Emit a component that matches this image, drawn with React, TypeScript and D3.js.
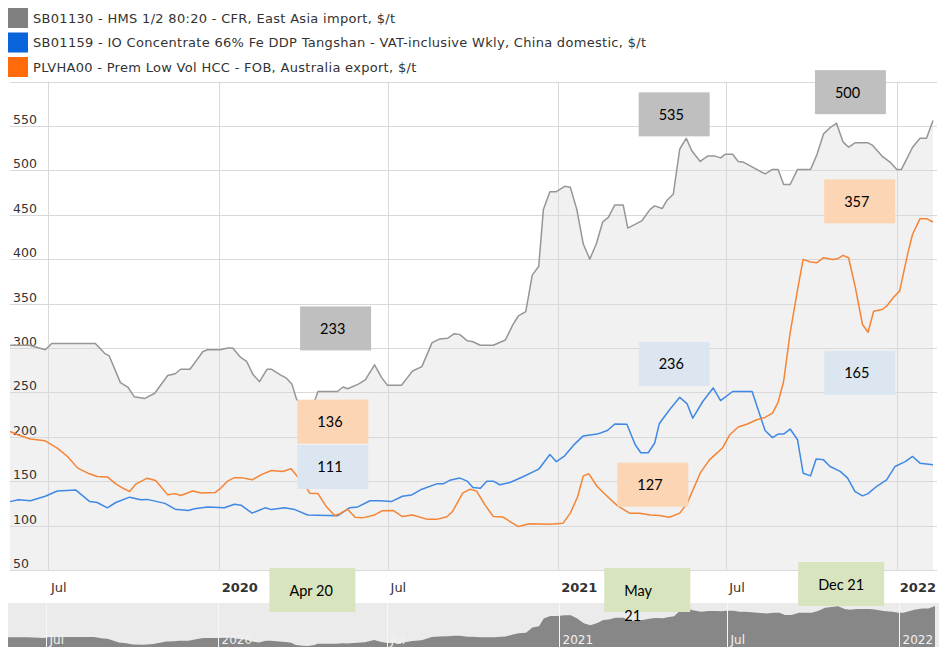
import { useEffect, useRef } from "react";
import * as d3 from "d3";

// SB01130 - HMS 1/2 80:20 CFR East Asia
const hmsData: [string, number][] = [
  ["2019-05-21", 303], ["2019-06-11", 303], ["2019-06-28", 298], ["2019-07-05", 305],
  ["2019-08-21", 305], ["2019-08-31", 294], ["2019-09-05", 291], ["2019-09-17", 261],
  ["2019-09-25", 256], ["2019-10-02", 245], ["2019-10-13", 243], ["2019-10-24", 249],
  ["2019-11-07", 269], ["2019-11-15", 271], ["2019-11-21", 276], ["2019-12-01", 276],
  ["2019-12-06", 283], ["2019-12-15", 296], ["2019-12-20", 298], ["2020-01-02", 298],
  ["2020-01-11", 300], ["2020-01-16", 300], ["2020-01-24", 290], ["2020-01-31", 285],
  ["2020-02-07", 270], ["2020-02-14", 262], ["2020-02-22", 276], ["2020-02-27", 276],
  ["2020-03-07", 270], ["2020-03-14", 266], ["2020-03-20", 259], ["2020-03-25", 242],
  ["2020-04-01", 236], ["2020-04-07", 233], ["2020-04-14", 242], ["2020-04-17", 251],
  ["2020-05-08", 251], ["2020-05-14", 256], ["2020-05-19", 254], ["2020-05-30", 259],
  ["2020-06-07", 264], ["2020-06-17", 281], ["2020-06-25", 266], ["2020-07-01", 258],
  ["2020-07-16", 258], ["2020-07-22", 266], ["2020-07-28", 274], ["2020-08-07", 279],
  ["2020-08-18", 306], ["2020-08-26", 310], ["2020-09-04", 311], ["2020-09-11", 316],
  ["2020-09-17", 315], ["2020-09-25", 308], ["2020-10-01", 307], ["2020-10-09", 303],
  ["2020-10-23", 303], ["2020-11-05", 309], ["2020-11-13", 326], ["2020-11-19", 336],
  ["2020-11-27", 341], ["2020-12-04", 382], ["2020-12-11", 392], ["2020-12-16", 456],
  ["2020-12-23", 476], ["2020-12-30", 476], ["2021-01-08", 482], ["2021-01-14", 481],
  ["2021-01-21", 456], ["2021-01-28", 417], ["2021-02-04", 400], ["2021-02-11", 417],
  ["2021-02-18", 442], ["2021-02-24", 447], ["2021-03-03", 461], ["2021-03-12", 461],
  ["2021-03-17", 435], ["2021-04-01", 443], ["2021-04-10", 456], ["2021-04-15", 460],
  ["2021-04-23", 457], ["2021-04-28", 466], ["2021-05-05", 473], ["2021-05-12", 524],
  ["2021-05-19", 536], ["2021-05-25", 522], ["2021-06-03", 510], ["2021-06-11", 516],
  ["2021-06-19", 516], ["2021-06-25", 514], ["2021-06-30", 518], ["2021-07-08", 518],
  ["2021-07-14", 510], ["2021-07-20", 509], ["2021-07-27", 505], ["2021-08-12", 496],
  ["2021-08-20", 501], ["2021-08-26", 501], ["2021-09-01", 484], ["2021-09-08", 484],
  ["2021-09-16", 501], ["2021-09-30", 501], ["2021-10-07", 518], ["2021-10-14", 541],
  ["2021-10-21", 548], ["2021-10-28", 553], ["2021-11-04", 532], ["2021-11-10", 526],
  ["2021-11-17", 531], ["2021-12-01", 531], ["2021-12-06", 528], ["2021-12-16", 516],
  ["2021-12-25", 509], ["2022-01-01", 501], ["2022-01-06", 501], ["2022-01-18", 526],
  ["2022-01-26", 536], ["2022-02-02", 536], ["2022-02-09", 556],
];

// SB01159 - IO Concentrate 66% Fe DDP Tangshan
const ioData: [string, number][] = [
  ["2019-05-21", 127], ["2019-05-30", 129], ["2019-06-12", 128], ["2019-06-28", 133],
  ["2019-07-11", 139], ["2019-07-31", 140], ["2019-08-15", 127], ["2019-08-23", 126],
  ["2019-09-03", 120], ["2019-09-12", 126], ["2019-09-27", 132], ["2019-10-09", 129],
  ["2019-10-16", 129.5], ["2019-11-04", 125], ["2019-11-15", 118.5], ["2019-11-29", 117],
  ["2019-12-06", 119], ["2019-12-20", 121], ["2020-01-07", 120], ["2020-01-18", 124],
  ["2020-01-25", 123], ["2020-02-06", 114], ["2020-02-20", 120], ["2020-02-27", 118],
  ["2020-03-12", 120], ["2020-03-23", 118], ["2020-04-06", 112], ["2020-05-08", 111],
  ["2020-05-21", 120], ["2020-05-30", 121], ["2020-06-12", 128], ["2020-06-23", 128],
  ["2020-07-05", 127], ["2020-07-17", 133], ["2020-07-27", 134.5], ["2020-08-07", 141],
  ["2020-08-23", 147], ["2020-08-30", 147], ["2020-09-06", 151], ["2020-09-17", 153.5],
  ["2020-09-25", 150], ["2020-10-01", 143], ["2020-10-09", 142], ["2020-10-16", 150],
  ["2020-10-23", 150], ["2020-10-30", 146], ["2020-11-10", 148.5], ["2020-11-24", 155],
  ["2020-12-11", 163.5], ["2020-12-23", 180], ["2020-12-30", 172], ["2021-01-08", 178.6],
  ["2021-01-17", 190], ["2021-01-28", 201], ["2021-02-12", 203], ["2021-02-23", 207],
  ["2021-03-03", 214.4], ["2021-03-16", 214], ["2021-03-25", 191], ["2021-03-31", 182],
  ["2021-04-08", 182], ["2021-04-15", 193], ["2021-04-20", 215], ["2021-05-01", 230.5],
  ["2021-05-12", 244.4], ["2021-05-20", 237], ["2021-05-26", 221], ["2021-06-06", 240],
  ["2021-06-17", 255], ["2021-06-25", 240.6], ["2021-07-08", 251], ["2021-07-29", 251],
  ["2021-08-04", 232], ["2021-08-12", 207], ["2021-08-20", 199], ["2021-08-26", 203],
  ["2021-09-01", 203], ["2021-09-08", 208.7], ["2021-09-16", 196.6], ["2021-09-22", 159],
  ["2021-09-30", 156], ["2021-10-06", 175], ["2021-10-14", 174], ["2021-10-21", 166.5],
  ["2021-11-01", 161], ["2021-11-09", 153.4], ["2021-11-17", 138.3], ["2021-11-25", 133.5],
  ["2021-12-01", 136], ["2021-12-10", 144], ["2021-12-21", 151.5], ["2021-12-30", 166.5],
  ["2022-01-10", 172], ["2022-01-18", 177.8], ["2022-01-26", 170.3], ["2022-02-09", 168.4],
];

// PLVHA00 - Prem Low Vol HCC FOB Australia
const hccData: [string, number][] = [
  ["2019-05-21", 206], ["2019-05-30", 202], ["2019-06-12", 197.4], ["2019-06-28", 195.5],
  ["2019-07-11", 187.3], ["2019-07-22", 177.8], ["2019-08-02", 164.7], ["2019-08-13", 159],
  ["2019-08-23", 155.3], ["2019-09-03", 154.8], ["2019-09-12", 147], ["2019-09-20", 142],
  ["2019-09-27", 138.3], ["2019-10-04", 147], ["2019-10-16", 153.4], ["2019-10-25", 150.7],
  ["2019-11-07", 134.6], ["2019-11-15", 136], ["2019-11-21", 133.8], ["2019-12-04", 139],
  ["2019-12-13", 136.7], ["2019-12-28", 137.2], ["2020-01-03", 142], ["2020-01-11", 150.4],
  ["2020-01-18", 154], ["2020-01-25", 154], ["2020-02-06", 151.5], ["2020-02-17", 158],
  ["2020-02-27", 162], ["2020-03-10", 161], ["2020-03-19", 164], ["2020-03-26", 155],
  ["2020-04-05", 142], ["2020-04-08", 136.5], ["2020-04-17", 136], ["2020-04-26", 121.4],
  ["2020-05-05", 111.3], ["2020-05-10", 113], ["2020-05-19", 118.5], ["2020-05-27", 109.4],
  ["2020-06-04", 108.7], ["2020-06-17", 112], ["2020-06-25", 116.6], ["2020-07-07", 117],
  ["2020-07-17", 110.2], ["2020-07-28", 112], ["2020-08-13", 107], ["2020-08-23", 107],
  ["2020-09-03", 110], ["2020-09-09", 115.8], ["2020-09-20", 136.5], ["2020-09-28", 141],
  ["2020-10-05", 138.8], ["2020-10-14", 123.3], ["2020-10-23", 110.2], ["2020-11-02", 109.7],
  ["2020-11-19", 98.9], ["2020-12-01", 102], ["2020-12-23", 101.5], ["2021-01-06", 102.5],
  ["2021-01-14", 114], ["2021-01-22", 132.7], ["2021-01-28", 156], ["2021-02-03", 158.3],
  ["2021-02-12", 144], ["2021-02-23", 132.7], ["2021-03-06", 122.2], ["2021-03-19", 114],
  ["2021-03-30", 114], ["2021-04-10", 112], ["2021-04-20", 111.3], ["2021-05-01", 109.4],
  ["2021-05-12", 114], ["2021-05-20", 125], ["2021-06-03", 159], ["2021-06-13", 174],
  ["2021-06-21", 181.6], ["2021-06-27", 187.3], ["2021-07-05", 202.3], ["2021-07-14", 211],
  ["2021-07-24", 214.4], ["2021-08-03", 219.2], ["2021-08-12", 221.8], ["2021-08-20", 226.7],
  ["2021-08-26", 238.8], ["2021-09-01", 262.5], ["2021-09-08", 317], ["2021-09-16", 365.8],
  ["2021-09-22", 399.7], ["2021-09-30", 396.7], ["2021-10-07", 396], ["2021-10-14", 401.6],
  ["2021-10-24", 399.7], ["2021-10-29", 400.4], ["2021-11-04", 404.3], ["2021-11-10", 401.6],
  ["2021-11-17", 369.6], ["2021-11-25", 326.4], ["2021-12-01", 317.7], ["2021-12-07", 341.4],
  ["2021-12-16", 343.3], ["2021-12-21", 347], ["2021-12-28", 356.5], ["2022-01-04", 364],
  ["2022-01-13", 407.3], ["2022-01-18", 428], ["2022-01-26", 445.6], ["2022-02-02", 445.6],
  ["2022-02-09", 441.8],
];

const legendLabels = [
  "SB01130 - HMS 1/2 80:20 - CFR, East Asia import, $/t",
  "SB01159 - IO Concentrate 66% Fe DDP Tangshan - VAT-inclusive Wkly, China domestic, $/t",
  "PLVHA00 - Prem Low Vol HCC - FOB, Australia export, $/t",
];
const legendColors = ["#808080", "#0a64dc", "#ff6a0a"];

const yTicks = [50, 100, 150, 200, 250, 300, 350, 400, 450, 500, 550];
const yMax = 600;

const xTickDates = ["2019-07-01", "2020-01-01", "2020-07-01", "2021-01-01", "2021-07-01", "2022-01-01"];
const xTickLabels = ["Jul", "2020", "Jul", "2021", "Jul", "2022"];

// value call-outs and the date tags under the axis
const noteTexts = ["233", "136", "111", "535", "236", "127", "500", "357", "165"];
const noteAnchors: [string, number][] = [
  ["2020-05-06", 322], ["2020-05-03", 217], ["2020-05-03", 166],
  ["2021-05-06", 563], ["2021-05-06", 282], ["2021-04-13", 146],
  ["2021-11-12", 588], ["2021-11-22", 465], ["2021-11-22", 272],
];
const noteKinds = ["grey", "peach", "blue", "grey", "blue", "peach", "grey", "peach", "blue"];
const dateTags = [["Apr 20"], ["May", "21"], ["Dec 21"]];
const dateTagAnchors = ["2020-04-11", "2021-04-07", "2021-11-02"];

const noteFill: Record<string, string> = {
  grey: "#bfbfbf",
  peach: "#fcd5b4",
  blue: "#dce6f1",
  green: "#d7e4bd",
};

const parse = d3.timeParse("%Y-%m-%d");

const App = () => {
  const svgRef = useRef<SVGSVGElement | null>(null);

  useEffect(() => {
    document.body.style.margin = "0";
    const svg = d3.select(svgRef.current);
    svg.selectAll("*").remove();

    const width = 939;
    const plot = { left: 10, right: 933, top: 81.5, bottom: 570 };
    const font = "'DejaVu Sans', Verdana, sans-serif";

    const toPts = (arr: [string, number][]) =>
      arr.map(([d, v]) => ({ date: parse(d) as Date, value: v }));
    const hms = toPts(hmsData);
    const io = toPts(ioData);
    const hcc = toPts(hccData);

    const x = d3
      .scaleTime()
      .domain(d3.extent([...hms, ...io, ...hcc], (d) => d.date) as [Date, Date])
      .range([plot.left, plot.right]);

    const y = d3.scaleLinear().domain([50, yMax]).range([plot.bottom, plot.top]);

    // legend
    legendLabels.forEach((label, i) => {
      svg
        .append("rect")
        .attr("x", 8)
        .attr("y", 8 + i * 24.5)
        .attr("width", 20)
        .attr("height", 20)
        .attr("fill", legendColors[i]);
      svg
        .append("text")
        .attr("x", 33)
        .attr("y", 18 + i * 24.5)
        .attr("dominant-baseline", "central")
        .style("font-family", font)
        .style("font-size", "13px")
        .style("letter-spacing", "0.3px")
        .style("fill", "#333")
        .text(label);
    });

    // grey area under HMS
    svg
      .append("path")
      .datum(hms)
      .attr("fill", "#f1f1f1")
      .attr(
        "d",
        d3
          .area<{ date: Date; value: number }>()
          .x((d) => x(d.date))
          .y0(plot.bottom)
          .y1((d) => y(d.value))
      );

    // horizontal grid
    [...yTicks, yMax].forEach((t) => {
      svg
        .append("line")
        .attr("x1", plot.left)
        .attr("x2", 937)
        .attr("y1", Math.round(y(t)) + 0.5)
        .attr("y2", Math.round(y(t)) + 0.5)
        .attr("stroke", "#d9d9d9")
        .attr("stroke-width", 1);
    });

    // vertical grid
    xTickDates.forEach((d) => {
      const px = Math.round(x(parse(d) as Date)) + 0.5;
      svg
        .append("line")
        .attr("x1", px)
        .attr("x2", px)
        .attr("y1", plot.top)
        .attr("y2", plot.bottom)
        .attr("stroke", "#d9d9d9")
        .attr("stroke-width", 1);
    });

    // y labels
    yTicks.forEach((t) => {
      svg
        .append("text")
        .attr("x", 13)
        .attr("y", y(t) - 2)
        .style("font-family", font)
        .style("font-size", "12.5px")
        .style("fill", "#333")
        .text(t);
    });

    const line = d3
      .line<{ date: Date; value: number }>()
      .x((d) => x(d.date))
      .y((d) => y(d.value));

    [
      { data: hms, color: "#969696" },
      { data: io, color: "#3f88e4" },
      { data: hcc, color: "#f58434" },
    ].forEach((s) => {
      svg
        .append("path")
        .datum(s.data)
        .attr("fill", "none")
        .attr("stroke", s.color)
        .attr("stroke-width", 1.5)
        .attr("stroke-linejoin", "round")
        .attr("d", line);
    });

    // x labels
    xTickDates.forEach((d, i) => {
      svg
        .append("text")
        .attr("x", x(parse(d) as Date) + 3)
        .attr("y", 587)
        .attr("dominant-baseline", "central")
        .style("font-family", font)
        .style("font-size", "13px")
        .style("font-weight", xTickLabels[i] === "Jul" ? "normal" : "bold")
        .style("fill", "#333")
        .text(xTickLabels[i]);
    });

    // navigator
    const navTop = 603;
    svg
      .append("rect")
      .attr("x", 8)
      .attr("y", navTop)
      .attr("width", width - 8)
      .attr("height", 50)
      .attr("fill", "#ebebeb");

    const navY = d3
      .scaleLinear()
      .domain(d3.extent(hms, (d) => d.value) as [number, number])
      .range([646, 606]);
    const navX = x.copy().range([8, 935]);

    svg
      .append("path")
      .datum(hms)
      .attr("fill", "#878787")
      .attr(
        "d",
        d3
          .area<{ date: Date; value: number }>()
          .x((d) => navX(d.date))
          .y0(660)
          .y1((d) => navY(d.value))
      );

    xTickDates.forEach((d, i) => {
      const px = Math.round(navX(parse(d) as Date)) + 0.5;
      svg
        .append("line")
        .attr("x1", px)
        .attr("x2", px)
        .attr("y1", navTop)
        .attr("y2", 647)
        .attr("stroke", "#f7f7f7")
        .attr("stroke-width", 1);
      svg
        .append("text")
        .attr("x", px + 3)
        .attr("y", 640)
        .attr("dominant-baseline", "central")
        .style("font-family", font)
        .style("font-size", "12px")
        .style("fill", "#f2f2f2")
        .text(xTickLabels[i]);
    });

    // call-out boxes
    const boxW = 71;
    const boxH = 44;
    const noteFont = "Lato, 'Open Sans', sans-serif";
    noteTexts.forEach((txt, i) => {
      const [d, v] = noteAnchors[i];
      const cx = x(parse(d) as Date);
      const cy = y(v);
      const g = svg.append("g");
      g.append("rect")
        .attr("x", cx - boxW / 2)
        .attr("y", cy - boxH / 2)
        .attr("width", boxW)
        .attr("height", boxH)
        .attr("fill", noteFill[noteKinds[i]]);
      g.append("text")
        .attr("x", cx - boxW / 2 + 20)
        .attr("y", cy)
        .attr("dominant-baseline", "central")
        .style("font-family", noteFont)
        .style("font-size", "14.5px")
        .style("fill", "#000")
        .text(txt);
    });

    const tagW = 86;
    const tagTops = [568, 568, 562];
    dateTags.forEach((lines, i) => {
      const cx = x(parse(dateTagAnchors[i]) as Date);
      const top = tagTops[i];
      const g = svg.append("g");
      g.append("rect")
        .attr("x", cx - tagW / 2)
        .attr("y", top)
        .attr("width", tagW)
        .attr("height", boxH)
        .attr("fill", noteFill.green);
      lines.forEach((ln, j) => {
        g.append("text")
          .attr("x", cx - tagW / 2 + 20)
          .attr("y", top + 22 + j * 25)
          .attr("dominant-baseline", "central")
          .style("font-family", noteFont)
          .style("font-size", "14.5px")
          .style("fill", "#000")
          .text(ln);
      });
    });
  }, []);

  return (
    <div style={{ position: "relative", width: 939, height: 647, overflow: "hidden" }}>
      <svg ref={svgRef} width="939" height="647" style={{ display: "block", background: "#fff" }} />
    </div>
  );
};

export default App;
